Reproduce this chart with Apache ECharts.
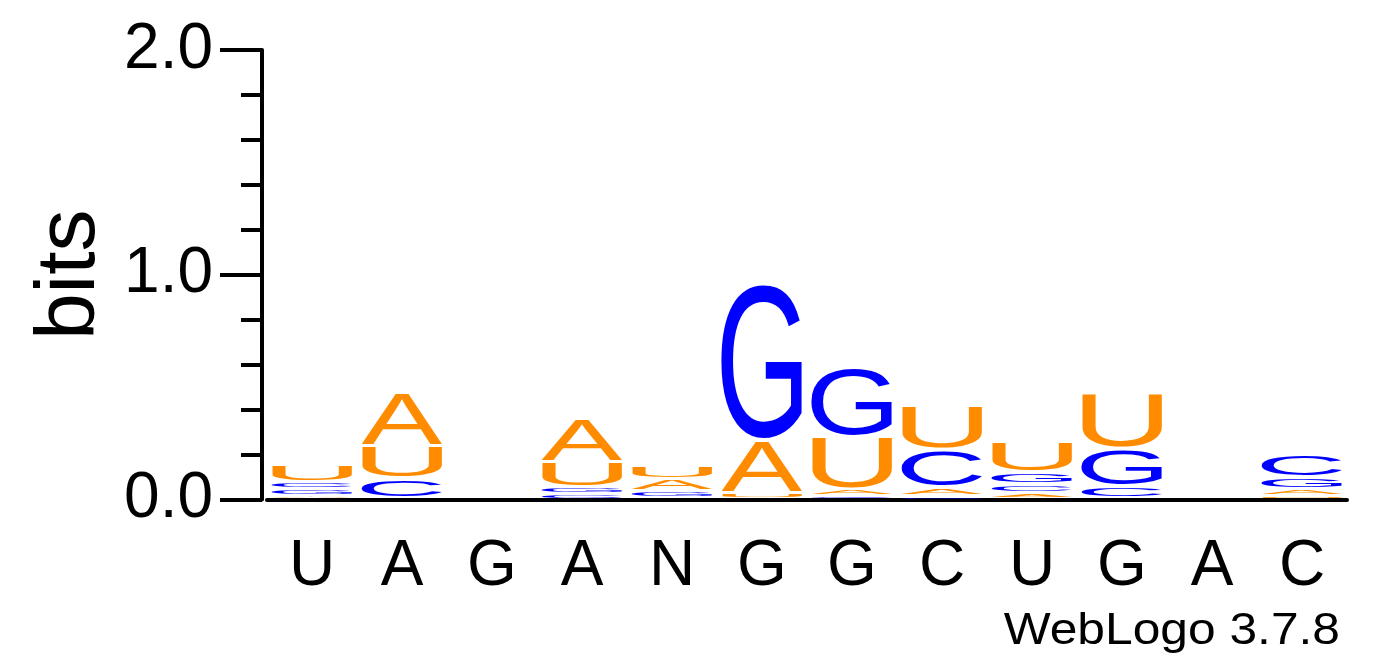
<!DOCTYPE html>
<html>
<head>
<meta charset="utf-8">
<title>WebLogo</title>
<script src="https://cdn.jsdelivr.net/npm/echarts@6/dist/echarts.min.js"></script>
<style>
  html, body { margin: 0; padding: 0; background: #fff; }
  #main { width: 1392px; height: 667px; }
</style>
</head>
<body>
<div id="main"></div>
<script>
// sequence positions (x axis labels)
const positions = ['U', 'A', 'G', 'A', 'N', 'G', 'G', 'C', 'U', 'G', 'A', 'C'];

// letter heights in bits, one value per position
const bitsA = [0.010, 0.236, 0, 0.193, 0.055, 0.233, 0.028, 0.039, 0.021, 0, 0, 0.030];
const bitsC = [0.031, 0.085, 0, 0.019, 0, 0, 0.010, 0.168, 0.040, 0.053, 0, 0.104];
const bitsG = [0.030, 0, 0, 0.030, 0.030, 0.698, 0.310, 0.007, 0.052, 0.166, 0, 0.052];
const bitsU = [0.078, 0.147, 0, 0.113, 0.062, 0.024, 0.234, 0.196, 0.138, 0.245, 0, 0.010];

const yTicks = [0, 1, 2];

const ORANGE = '#ff8c00';
const BLUE = '#0000ff';
const FONT = '"Liberation Sans", Arial, Helvetica, sans-serif';

const letters = [
    { ch: 'A', color: ORANGE, bits: bitsA },
    { ch: 'C', color: BLUE, bits: bitsC },
    { ch: 'G', color: BLUE, bits: bitsG },
    { ch: 'U', color: ORANGE, bits: bitsU }
];

// ink box of each glyph at 100px, measured against the 'middle' baseline
// (zrender draws single line text with textBaseline middle)
const measureCtx = document.createElement('canvas').getContext('2d');
measureCtx.font = '100px ' + FONT;
measureCtx.textBaseline = 'middle';
measureCtx.textAlign = 'left';
const glyphs = {};
letters.forEach(function (l) {
    const m = measureCtx.measureText(l.ch);
    glyphs[l.ch] = {
        l: m.actualBoundingBoxLeft,
        r: m.actualBoundingBoxRight,
        a: m.actualBoundingBoxAscent,
        d: m.actualBoundingBoxDescent
    };
});

function renderStack(params, api) {
    const i = api.value(0);
    const stack = letters
        .map(function (l) { return { ch: l.ch, color: l.color, h: l.bits[i] }; })
        .filter(function (s) { return s.h > 0; })
        .sort(function (p, q) { return p.h - q.h; });

    const xc = api.coord([i, 0])[0];
    const w = api.size([1, 0])[0] * 0.9;
    const children = [];
    let cum = 0;
    stack.forEach(function (s) {
        const yBot = api.coord([i, cum])[1];
        cum += s.h;
        const yTop = api.coord([i, cum])[1];
        const boxH = yBot - yTop;
        const inkH = boxH - Math.min(3.5, boxH * 0.45);
        const g = glyphs[s.ch];
        const sx = w / (g.l + g.r);
        const sy = inkH / (g.a + g.d);
        children.push({
            type: 'text',
            x: xc - w / 2 + g.l * sx,
            y: yTop + g.a * sy,
            scaleX: sx,
            scaleY: sy,
            style: {
                text: s.ch,
                fill: s.color,
                fontSize: 100,
                fontFamily: FONT,
                align: 'left',
                verticalAlign: 'middle'
            }
        });
    });
    return { type: 'group', children: children };
}

const chart = echarts.init(document.getElementById('main'));

const option = {
    animation: false,
    backgroundColor: '#fff',
    grid: {
        left: 267,
        right: 45,
        top: 50,
        bottom: 167.5
    },
    xAxis: {
        type: 'category',
        data: positions,
        axisLine: { lineStyle: { color: '#000', width: 4 } },
        axisTick: { alignWithLabel: true, length: 20, lineStyle: { color: '#000', width: 4 } },
        axisLabel: { color: '#000', fontSize: 64, fontFamily: FONT, margin: 36, lineHeight: 64 }
    },
    yAxis: {
        type: 'value',
        min: yTicks[0],
        max: yTicks[yTicks.length - 1],
        interval: 1,
        offset: 5,
        name: 'bits',
        nameLocation: 'middle',
        nameRotate: 90,
        nameGap: 141,
        nameTextStyle: { color: '#000', fontSize: 84, fontFamily: FONT },
        axisLine: { show: true, lineStyle: { color: '#000', width: 4 } },
        axisTick: { show: true, length: 42, lineStyle: { color: '#000', width: 4 } },
        minorTick: { show: true, splitNumber: 5, length: 21, lineStyle: { color: '#000', width: 4 } },
        splitLine: { show: false },
        axisLabel: {
            color: '#000',
            fontSize: 64,
            fontFamily: FONT,
            margin: 49,
            formatter: function (v) { return v.toFixed(1); }
        }
    },
    graphic: [
        {
            type: 'text',
            x: 1340,
            y: 632,
            scaleX: 1.13,
            style: {
                text: 'WebLogo 3.7.8',
                fill: '#000',
                fontSize: 44,
                fontFamily: FONT,
                align: 'right',
                verticalAlign: 'middle'
            }
        }
    ],
    series: [
        {
            type: 'custom',
            renderItem: renderStack,
            encode: { x: 0, y: 1 },
            data: positions.map(function (p, i) {
                return [i, bitsA[i] + bitsC[i] + bitsG[i] + bitsU[i]];
            })
        }
    ]
};

chart.setOption(option);
</script>
</body>
</html>
